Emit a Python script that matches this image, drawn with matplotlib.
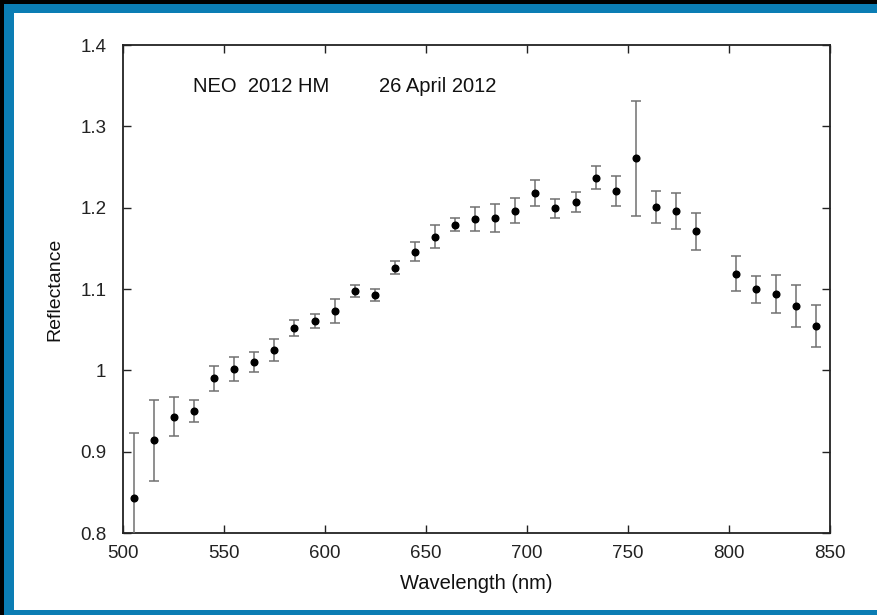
import matplotlib
matplotlib.use("Agg")
import matplotlib.pyplot as plt
from matplotlib.patches import Rectangle

plt.rcParams['font.family'] = ['Liberation Sans', 'DejaVu Sans']

wavelength = [505.2, 515.1, 525.2, 535.3, 545.2, 555.1, 565.0, 574.9, 584.9, 594.9,
              604.8, 614.9, 624.8, 634.5, 644.6, 654.5, 664.4, 674.3, 684.3, 694.2,
              704.0, 714.0, 724.1, 734.0, 743.9, 753.8, 763.7, 773.6, 783.6, 803.5,
              813.4, 823.3, 833.2, 843.1]
reflectance = [0.843, 0.914, 0.943, 0.950, 0.990, 1.002, 1.010, 1.025, 1.052, 1.0605,
               1.073, 1.098, 1.0925, 1.126, 1.146, 1.1645, 1.179, 1.186, 1.187, 1.196,
               1.2185, 1.199, 1.207, 1.237, 1.220, 1.2605, 1.201, 1.196, 1.171, 1.119,
               1.0995, 1.094, 1.079, 1.055]
error = [0.080, 0.050, 0.024, 0.0135, 0.015, 0.0145, 0.012, 0.013, 0.0103, 0.0087,
         0.0145, 0.0075, 0.0078, 0.008, 0.012, 0.0146, 0.008, 0.015, 0.017, 0.0153,
         0.016, 0.012, 0.0125, 0.014, 0.0185, 0.0705, 0.0194, 0.0225, 0.0228, 0.0216,
         0.0167, 0.0237, 0.0255, 0.0257]

xticks = [500, 550, 600, 650, 700, 750, 800, 850]
xticklabels = ['500', '550', '600', '650', '700', '750', '800', '850']
yticks = [0.8, 0.9, 1.0, 1.1, 1.2, 1.3, 1.4]
yticklabels = ['0.8', '0.9', '1', '1.1', '1.2', '1.3', '1.4']

fig = plt.figure(figsize=(8.78, 6.15), dpi=100)
fig.patch.set_facecolor('white')

# frame decoration (left, top, bottom strips)
W, H = 878.0, 615.0
blue = '#0b7db4'
def strip(x0, y0, w, h, c):
    fig.patches.append(Rectangle((x0 / W, 1 - (y0 + h) / H), w / W, h / H,
                                 transform=fig.transFigure, facecolor=c,
                                 edgecolor='none', zorder=-9))
strip(0, 0, 14, 615, blue)
strip(0, 0, 878, 13, blue)
strip(0, 610, 878, 5, blue)
strip(0, 0, 4, 615, 'black')
strip(0, 0, 878, 4, 'black')

ax = fig.add_axes([123 / W, 1 - 533 / H, (830 - 123) / W, (533 - 45) / H])
ax.set_facecolor('none')

ax.errorbar(wavelength, reflectance, yerr=error, fmt='o', color='black', markersize=4.8,
            ecolor='#707070', elinewidth=1.1, capsize=3.8, capthick=1.1, zorder=3)

ax.set_xlim(500, 850)
ax.set_ylim(0.8, 1.4)
ax.set_xticks(xticks)
ax.set_xticklabels(xticklabels)
ax.set_yticks(yticks)
ax.set_yticklabels(yticklabels)
ax.tick_params(direction='in', length=6, width=1, top=True, right=True,
               labelsize=13.5, pad=9, colors='#222222')
ax.tick_params(axis='y', pad=12)
for s in ax.spines.values():
    s.set_linewidth(1.3)
    s.set_color('#222222')

ax.set_xlabel('Wavelength (nm)', fontsize=14.5, labelpad=8, color='#111111')
ax.set_ylabel('Reflectance', fontsize=14, labelpad=12, color='#111111')

ax.text(193 / W, 1 - 92 / H, 'NEO  2012 HM', transform=fig.transFigure,
        fontsize=14.5, color='#111111', va='baseline', ha='left')
ax.text(379 / W, 1 - 92 / H, '26 April 2012', transform=fig.transFigure,
        fontsize=14.5, color='#111111', va='baseline', ha='left')

fig.savefig('out.png', dpi=100)
